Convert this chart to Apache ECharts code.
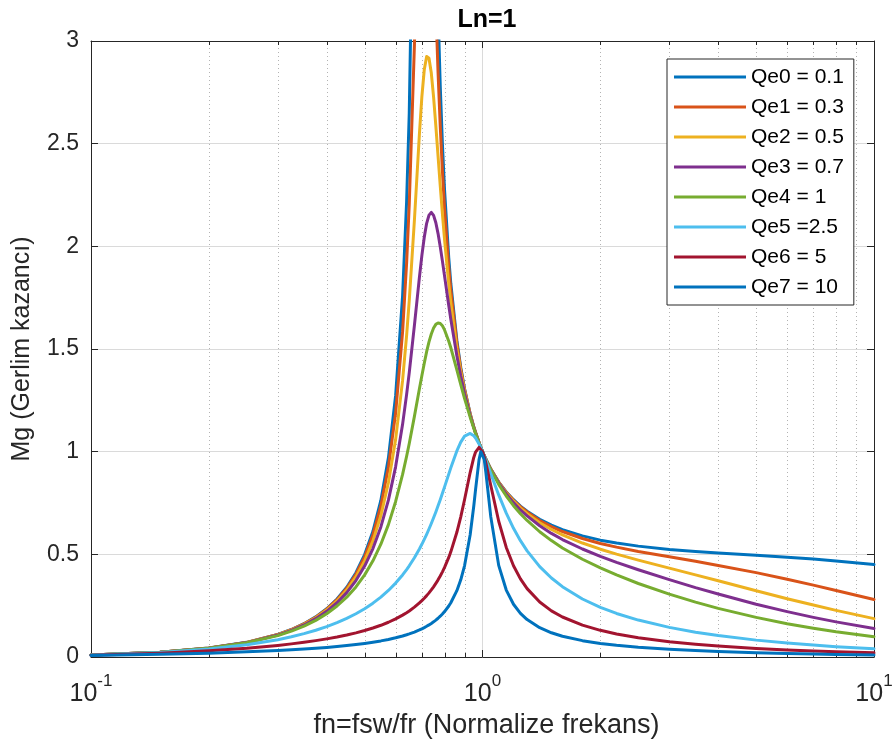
<!DOCTYPE html>
<html>
<head>
<meta charset="utf-8">
<script src="https://cdn.jsdelivr.net/npm/echarts@6.0.0/dist/echarts.min.js"></script>
<style>
  html, body { margin: 0; padding: 0; background: #ffffff; }
  #chart { width: 893px; height: 742px; }
</style>
</head>
<body>
<div id="chart"></div>
<script>
// Normalized frequency samples (fn = fsw / fr), shared by every curve
const fn = [0.1, 0.15, 0.2, 0.25, 0.3, 0.325, 0.35, 0.375, 0.4, 0.425,
  0.45, 0.475, 0.5, 0.525, 0.55, 0.575, 0.6, 0.625, 0.64, 0.65,
  0.67, 0.69, 0.7, 0.71, 0.72, 0.73, 0.74, 0.75, 0.76, 0.77,
  0.78, 0.79, 0.8, 0.82, 0.83, 0.86, 0.88, 0.9, 0.93, 0.95,
  0.96, 0.98, 0.99, 1.0, 1.01, 1.02, 1.05, 1.1, 1.15, 1.2,
  1.25, 1.3, 1.4, 1.5, 1.6, 1.8, 2, 2.2, 2.5, 3,
  3.5, 4, 5, 6, 7, 8, 10];

// Voltage gain Mg for each quality factor Qe (Ln = 1)
const gainQe0 = [0.0102, 0.0236, 0.0435, 0.0714, 0.1097, 0.1338, 0.1621, 0.1955, 0.2350, 0.2824,
  0.3397, 0.4102, 0.4986, 0.6120, 0.7623, 0.9698, 1.2738, 1.759, 2.218, 2.649,
  4.131, 7.94, 11.97, 13.94, 10.25, 7.19, 5.426, 4.352, 3.645, 3.147,
  2.779, 2.497, 2.274, 1.944, 1.819, 1.542, 1.410, 1.306, 1.185, 1.121,
  1.093, 1.043, 1.021, 1.0, 0.981, 0.963, 0.915, 0.852, 0.804, 0.766,
  0.735, 0.710, 0.671, 0.642, 0.620, 0.590, 0.569, 0.555, 0.540, 0.524,
  0.514, 0.507, 0.496, 0.486, 0.477, 0.468, 0.450];
const gainQe1 = [0.0102, 0.0235, 0.0434, 0.0712, 0.1092, 0.1331, 0.1611, 0.1939, 0.2328, 0.2791,
  0.3349, 0.4031, 0.4878, 0.5953, 0.7353, 0.9238, 1.189, 1.583, 1.919, 2.205,
  2.978, 4.017, 4.497, 4.758, 4.698, 4.381, 3.957, 3.535, 3.162, 2.847,
  2.585, 2.367, 2.184, 1.899, 1.786, 1.529, 1.403, 1.302, 1.184, 1.120,
  1.093, 1.043, 1.021, 1.0, 0.981, 0.963, 0.915, 0.851, 0.802, 0.763,
  0.732, 0.706, 0.665, 0.635, 0.611, 0.577, 0.553, 0.535, 0.514, 0.488,
  0.466, 0.446, 0.411, 0.379, 0.350, 0.324, 0.280];
const gainQe2 = [0.0102, 0.0235, 0.0432, 0.0708, 0.1083, 0.1317, 0.1590, 0.1909, 0.2284, 0.2728,
  0.3259, 0.3899, 0.4682, 0.5655, 0.6889, 0.8486, 1.060, 1.347, 1.566, 1.736,
  2.127, 2.547, 2.728, 2.860, 2.925, 2.916, 2.844, 2.727, 2.587, 2.439,
  2.294, 2.158, 2.033, 1.817, 1.726, 1.503, 1.389, 1.294, 1.181, 1.119,
  1.092, 1.043, 1.021, 1.0, 0.981, 0.962, 0.914, 0.849, 0.799, 0.759,
  0.725, 0.698, 0.654, 0.621, 0.595, 0.555, 0.525, 0.501, 0.472, 0.433,
  0.400, 0.371, 0.323, 0.284, 0.253, 0.227, 0.187];
const gainQe3 = [0.0102, 0.0234, 0.0430, 0.0702, 0.1069, 0.1297, 0.1561, 0.1867, 0.2224, 0.2642,
  0.3135, 0.3722, 0.4427, 0.5283, 0.6333, 0.7639, 0.9274, 1.133, 1.279, 1.385,
  1.615, 1.849, 1.955, 2.044, 2.112, 2.152, 2.165, 2.151, 2.115, 2.062,
  1.998, 1.928, 1.855, 1.712, 1.645, 1.467, 1.368, 1.283, 1.177, 1.118,
  1.091, 1.043, 1.021, 1.0, 0.981, 0.962, 0.913, 0.847, 0.794, 0.752,
  0.716, 0.687, 0.639, 0.602, 0.572, 0.526, 0.490, 0.461, 0.425, 0.377,
  0.338, 0.307, 0.257, 0.221, 0.193, 0.171, 0.139];
const gainQe4 = [0.0102, 0.0233, 0.0426, 0.0690, 0.1041, 0.1257, 0.1503, 0.1785, 0.2109, 0.2483,
  0.2914, 0.3415, 0.4000, 0.4686, 0.5494, 0.6448, 0.7574, 0.8894, 0.9778, 1.040,
  1.172, 1.306, 1.370, 1.431, 1.487, 1.535, 1.573, 1.602, 1.620, 1.627,
  1.624, 1.613, 1.593, 1.538, 1.506, 1.398, 1.327, 1.259, 1.168, 1.114,
  1.089, 1.042, 1.021, 1.0, 0.981, 0.962, 0.911, 0.841, 0.784, 0.737,
  0.698, 0.665, 0.610, 0.567, 0.531, 0.476, 0.434, 0.400, 0.358, 0.306,
  0.267, 0.237, 0.193, 0.162, 0.140, 0.123, 0.099];
const gainQe5 = [0.0099, 0.0220, 0.0386, 0.0594, 0.0844, 0.0985, 0.1138, 0.1303, 0.1481, 0.1673,
  0.1881, 0.2107, 0.2353, 0.2622, 0.2916, 0.3241, 0.3600, 0.3998, 0.4259, 0.4442,
  0.4834, 0.5261, 0.5489, 0.5727, 0.5975, 0.6233, 0.6501, 0.6779, 0.7066, 0.7362,
  0.7664, 0.7973, 0.8285, 0.8907, 0.9211, 1.0036, 1.0466, 1.0756, 1.0886, 1.0774,
  1.0667, 1.0373, 1.0194, 1.0, 0.9795, 0.9583, 0.8929, 0.7893, 0.7004, 0.6269,
  0.5666, 0.5168, 0.4403, 0.3846, 0.3424, 0.2824, 0.2417, 0.2120, 0.1798, 0.1443,
  0.1210, 0.1045, 0.0822, 0.0680, 0.0580, 0.0505, 0.0403];
const gainQe6 = [0.0091, 0.0187, 0.0301, 0.0427, 0.0565, 0.0639, 0.0716, 0.0797, 0.0883, 0.0974,
  0.1071, 0.1176, 0.1288, 0.1411, 0.1545, 0.1692, 0.1855, 0.2038, 0.2158, 0.2243,
  0.2428, 0.2633, 0.2745, 0.2863, 0.2989, 0.3123, 0.3266, 0.3419, 0.3582, 0.3757,
  0.3944, 0.4146, 0.4363, 0.4849, 0.5121, 0.6073, 0.6827, 0.7670, 0.8982, 0.9718,
  0.9981, 1.0206, 1.0154, 1.0, 0.9760, 0.9456, 0.8354, 0.6611, 0.5335, 0.4443,
  0.3804, 0.3329, 0.2675, 0.2248, 0.1948, 0.1551, 0.1299, 0.1122, 0.0938, 0.0743,
  0.0618, 0.0531, 0.0415, 0.0342, 0.0291, 0.0254, 0.0202];
const gainQe7 = [0.0072, 0.0129, 0.0188, 0.0250, 0.0316, 0.0351, 0.0387, 0.0426, 0.0467, 0.0510,
  0.0557, 0.0607, 0.0661, 0.0720, 0.0784, 0.0856, 0.0935, 0.1024, 0.1083, 0.1125,
  0.1215, 0.1317, 0.1373, 0.1432, 0.1495, 0.1563, 0.1635, 0.1713, 0.1797, 0.1888,
  0.1987, 0.2094, 0.2212, 0.2483, 0.2640, 0.3230, 0.3760, 0.4453, 0.5953, 0.7354,
  0.8154, 0.9611, 0.9999, 1.0, 0.9625, 0.8995, 0.6824, 0.4462, 0.3260, 0.2569,
  0.2127, 0.1821, 0.1425, 0.1180, 0.1012, 0.0796, 0.0662, 0.0570, 0.0474, 0.0374,
  0.0311, 0.0266, 0.0208, 0.0171, 0.0146, 0.0127, 0.0101];

const seriesNames = ['Qe0 = 0.1', 'Qe1 = 0.3', 'Qe2 = 0.5', 'Qe3 = 0.7', 'Qe4 = 1', 'Qe5 =2.5', 'Qe6 = 5', 'Qe7 = 10'];
const seriesGains = [gainQe0, gainQe1, gainQe2, gainQe3, gainQe4, gainQe5, gainQe6, gainQe7];
const seriesColors = ['#0072BD', '#D95319', '#EDB120', '#7E2F8E', '#77AC30', '#4DBEEE', '#A2142F', '#0072BD'];

// Decade tick exponents on the log axis and the minor (dotted) grid positions
const xTickExponents = [-1, 0, 1];
const minorGridX = [0.2, 0.3, 0.4, 0.5, 0.6, 0.7, 0.8, 0.9, 2, 3, 4, 5, 6, 7, 8, 9];
const yMin = 0, yMax = 3, yStep = 0.5;

const axisColor = '#262626';
const fontFamily = '"Liberation Sans", Arial, Helvetica, sans-serif';

function exponentLabel(v) {
  const e = Math.round(Math.log10(v));
  const found = xTickExponents.find(function (k) { return k === e; });
  return found === undefined ? '' : String(found);
}

const chart = echarts.init(document.getElementById('chart'), null, { renderer: 'canvas' });

const lineSeries = seriesNames.map(function (name, i) {
  return {
    name: name,
    type: 'line',
    xAxisIndex: 0,
    yAxisIndex: 0,
    data: fn.map(function (x, j) { return [x, seriesGains[i][j]]; }),
    symbol: 'none',
    smooth: false,
    clip: true,
    z: 3,
    color: seriesColors[i],
    lineStyle: { color: seriesColors[i], width: 3, join: 'round', cap: 'round' }
  };
});

// Dotted minor grid lines with short inward ticks at top and bottom
const minorGridSeries = {
  type: 'custom',
  xAxisIndex: 0,
  yAxisIndex: 0,
  silent: true,
  z: 1,
  data: minorGridX.map(function (v) { return [v]; }),
  encode: { x: 0 },
  renderItem: function (params, api) {
    const x = api.value(0);
    const pb = api.coord([x, yMin]);
    const pt = api.coord([x, yMax]);
    const px = Math.round(pb[0]) + 0.5;
    return {
      type: 'group',
      children: [
        { type: 'line', shape: { x1: px, y1: pb[1], x2: px, y2: pt[1] },
          style: { stroke: '#b3b3b3', lineWidth: 1, lineDash: [1, 3] } },
        { type: 'line', shape: { x1: px, y1: pb[1], x2: px, y2: pb[1] - 4 },
          style: { stroke: axisColor, lineWidth: 1 } },
        { type: 'line', shape: { x1: px, y1: pt[1], x2: px, y2: pt[1] + 4 },
          style: { stroke: axisColor, lineWidth: 1 } }
      ]
    };
  }
};

const option = {
  animation: false,
  backgroundColor: '#ffffff',
  textStyle: { fontFamily: fontFamily },
  title: {
    text: 'Ln=1',
    left: 482,
    top: 3,
    textAlign: 'center',
    textStyle: { fontFamily: fontFamily, fontSize: 25, fontWeight: 'bold', color: '#000000' }
  },
  grid: {
    left: 91, right: 19, top: 41, bottom: 85,
    containLabel: false,
    outerBoundsMode: 'none'
  },
  legend: {
    data: seriesNames,
    orient: 'vertical',
    left: 667,
    top: 59,
    backgroundColor: '#ffffff',
    borderColor: axisColor,
    borderWidth: 1,
    borderRadius: 0,
    padding: [3, 10, 3, 7],
    icon: 'rect',
    itemWidth: 72,
    itemHeight: 3,
    itemGap: 0,
    selectedMode: false,
    textStyle: { fontFamily: fontFamily, fontSize: 21, lineHeight: 30, color: '#000000' }
  },
  xAxis: [
    {
      type: 'log',
      logBase: 10,
      min: 0.1,
      max: 10,
      position: 'bottom',
      name: 'fn=fsw/fr (Normalize frekans)',
      nameLocation: 'middle',
      nameGap: 46,
      nameTextStyle: { fontFamily: fontFamily, fontSize: 27, color: '#262626', padding: [0, 0, 0, 8] },
      axisLine: { show: true, onZero: false, lineStyle: { color: axisColor, width: 1 } },
      axisTick: { show: true, inside: true, length: 7, lineStyle: { color: axisColor } },
      axisLabel: {
        margin: 16,
        formatter: function (v) { return '{b|10}{s|' + exponentLabel(v) + '}'; },
        rich: {
          b: { fontFamily: fontFamily, fontSize: 25, lineHeight: 34, color: '#262626', verticalAlign: 'bottom' },
          s: { fontFamily: fontFamily, fontSize: 17, lineHeight: 17, color: '#262626', verticalAlign: 'top' }
        }
      },
      splitLine: { show: true, lineStyle: { color: '#dadada', width: 1 } },
      minorTick: { show: false },
      minorSplitLine: { show: false }
    },
    {
      type: 'log',
      logBase: 10,
      min: 0.1,
      max: 10,
      position: 'top',
      axisLine: { show: true, onZero: false, lineStyle: { color: axisColor, width: 1 } },
      axisTick: { show: true, inside: true, length: 7, lineStyle: { color: axisColor } },
      axisLabel: { show: false },
      splitLine: { show: false }
    }
  ],
  yAxis: [
    {
      type: 'value',
      min: yMin,
      max: yMax,
      interval: yStep,
      position: 'left',
      name: 'Mg (Gerlim kazancı)',
      nameLocation: 'middle',
      nameGap: 56,
      nameTextStyle: { fontFamily: fontFamily, fontSize: 25, color: '#262626' },
      axisLine: { show: true, onZero: false, lineStyle: { color: axisColor, width: 1 } },
      axisTick: { show: true, inside: true, length: 7, lineStyle: { color: axisColor } },
      axisLabel: { margin: 12, fontFamily: fontFamily, fontSize: 23, color: '#262626' },
      splitLine: { show: true, lineStyle: { color: '#dadada', width: 1 } }
    },
    {
      type: 'value',
      min: yMin,
      max: yMax,
      interval: yStep,
      position: 'right',
      axisLine: { show: true, onZero: false, lineStyle: { color: axisColor, width: 1 } },
      axisTick: { show: true, inside: true, length: 7, lineStyle: { color: axisColor } },
      axisLabel: { show: false },
      splitLine: { show: false }
    }
  ],
  series: [minorGridSeries].concat(lineSeries)
};

chart.setOption(option);
</script>
</body>
</html>
